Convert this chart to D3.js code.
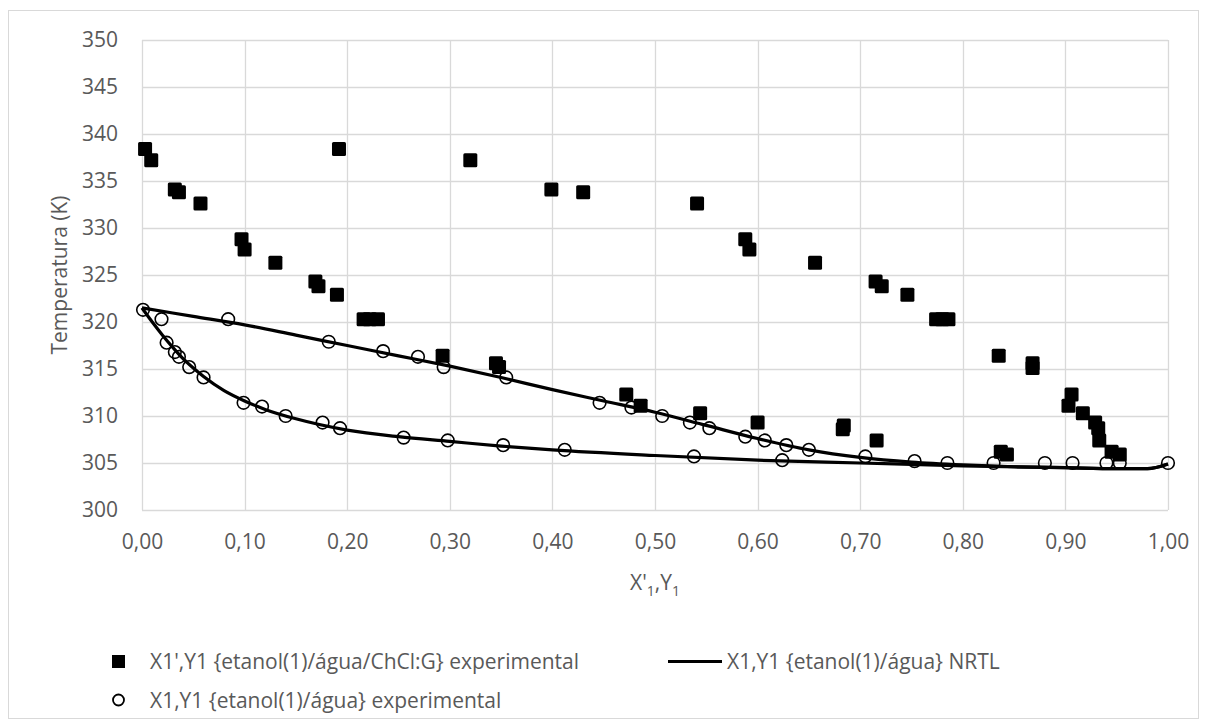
<!DOCTYPE html>
<html>
<head>
<meta charset="utf-8">
<script src="https://cdnjs.cloudflare.com/ajax/libs/d3/7.8.5/d3.min.js"></script>
<style>
  body { margin: 0; background: #fff; }
  text { font-family: "Open Sans", "Liberation Sans", sans-serif; fill: #595959; }
</style>
</head>
<body>
<div id="chart"></div>
<script>
// squares: X1' (liquid, with ChCl:G) and Y1 (vapour)
var sqX = [0.003, 0.009, 0.032, 0.036, 0.057, 0.097, 0.100, 0.130, 0.169, 0.172, 0.190, 0.216, 0.222, 0.230,
  0.293, 0.345, 0.348, 0.472, 0.486, 0.544, 0.600, 0.683, 0.684, 0.716, 0.837, 0.843,
  0.192, 0.320, 0.399, 0.430, 0.541, 0.588, 0.592, 0.656, 0.715, 0.721, 0.746, 0.774, 0.780, 0.786,
  0.835, 0.868, 0.868, 0.906, 0.903, 0.917, 0.929, 0.932, 0.933, 0.945, 0.953];
var sqT = [338.4, 337.2, 334.1, 333.8, 332.6, 328.8, 327.7, 326.3, 324.3, 323.8, 322.9, 320.3, 320.3, 320.3,
  316.4, 315.6, 315.2, 312.3, 311.1, 310.3, 309.3, 308.6, 309.0, 307.4, 306.2, 305.9,
  338.4, 337.2, 334.1, 333.8, 332.6, 328.8, 327.7, 326.3, 324.3, 323.8, 322.9, 320.3, 320.3, 320.3,
  316.4, 315.6, 315.1, 312.3, 311.1, 310.3, 309.3, 308.7, 307.4, 306.2, 305.9];

// circles: ethanol/water experimental
var ciX = [0.001, 0.019, 0.024, 0.032, 0.036, 0.046, 0.060, 0.099, 0.117, 0.140, 0.176, 0.193, 0.255, 0.298,
  0.352, 0.412, 0.538, 0.624,
  0.084, 0.182, 0.235, 0.269, 0.294, 0.355, 0.446, 0.477, 0.507, 0.534, 0.553, 0.588, 0.607, 0.628, 0.650,
  0.705, 0.753, 0.785, 0.830, 0.880, 0.907, 0.940, 0.953, 1.000];
var ciT = [321.3, 320.3, 317.8, 316.8, 316.3, 315.2, 314.1, 311.4, 311.0, 310.0, 309.3, 308.7, 307.7, 307.4,
  306.9, 306.4, 305.7, 305.3,
  320.3, 317.9, 316.9, 316.3, 315.2, 314.1, 311.4, 310.9, 310.0, 309.3, 308.7, 307.8, 307.4, 306.9, 306.4,
  305.7, 305.2, 305.0, 305.0, 305.0, 305.0, 305.0, 305.0, 305.0];

// NRTL curves
var nrtlLiqX = [0, 0.01, 0.02, 0.03, 0.04, 0.05, 0.06, 0.08, 0.10, 0.12, 0.15, 0.20, 0.25, 0.30, 0.35, 0.40,
  0.50, 0.60, 0.70, 0.80, 0.90, 0.95, 0.98, 1.0];
var nrtlLiqT = [321.5, 320.0, 318.6, 317.3, 316.1, 315.1, 314.2, 312.7, 311.6, 310.7, 309.7, 308.5, 307.8, 307.3,
  306.8, 306.4, 305.8, 305.3, 305.0, 304.7, 304.5, 304.4, 304.4, 304.9];
var nrtlVapX = [0, 0.05, 0.10, 0.15, 0.20, 0.25, 0.30, 0.35, 0.40, 0.45, 0.50, 0.55, 0.60, 0.65, 0.70, 0.75,
  0.80, 0.85, 0.90, 0.95, 0.98, 1.0];
var nrtlVapT = [321.5, 320.6, 319.7, 318.6, 317.5, 316.4, 315.3, 314.1, 312.8, 311.6, 310.4, 309.0, 307.6, 306.4,
  305.6, 305.1, 304.8, 304.6, 304.5, 304.4, 304.4, 304.9];

var xTicks = [0, 0.1, 0.2, 0.3, 0.4, 0.5, 0.6, 0.7, 0.8, 0.9, 1.0];
var yTicks = [300, 305, 310, 315, 320, 325, 330, 335, 340, 345, 350];

var legendNames = ["X1',Y1 {etanol(1)/água/ChCl:G} experimental",
  "X1,Y1 {etanol(1)/água} NRTL",
  "X1,Y1 {etanol(1)/água} experimental"];

var W = 1206, H = 725;
var m = {left: 142, right: 1168, top: 40, bottom: 510};
var fs = 21;

var svg = d3.select('#chart').append('svg').attr('width', W).attr('height', H);

svg.append('rect')
  .attr('x', 8.5).attr('y', 10.5).attr('width', 1190).attr('height', 708)
  .attr('fill', '#fff').attr('stroke', '#d9d9d9').attr('stroke-width', 1);

var x = d3.scaleLinear().domain([0, 1]).range([m.left, m.right]);
var y = d3.scaleLinear().domain([300, 350]).range([m.bottom, m.top]);

// grid
svg.append('g').selectAll('line.v').data(xTicks).enter().append('line')
  .attr('x1', function(d) { return Math.round(x(d)) + 0.5; })
  .attr('x2', function(d) { return Math.round(x(d)) + 0.5; })
  .attr('y1', m.top).attr('y2', m.bottom)
  .attr('stroke', '#d9d9d9').attr('stroke-width', 1.3);
svg.append('g').selectAll('line.h').data(yTicks).enter().append('line')
  .attr('y1', function(d) { return Math.round(y(d)) + 0.5; })
  .attr('y2', function(d) { return Math.round(y(d)) + 0.5; })
  .attr('x1', m.left).attr('x2', m.right)
  .attr('stroke', '#d9d9d9').attr('stroke-width', 1.3);

// axes labels via d3 axes
var fmt = function(d) { return d3.format('.2f')(d).replace('.', ','); };
var xAxis = svg.append('g').attr('transform', 'translate(0,' + m.bottom + ')')
  .call(d3.axisBottom(x).tickValues(xTicks).tickFormat(fmt).tickSize(0).tickPadding(24));
var yAxis = svg.append('g').attr('transform', 'translate(' + m.left + ',0)')
  .call(d3.axisLeft(y).tickValues(yTicks).tickSize(0).tickPadding(24));
[xAxis, yAxis].forEach(function(a) {
  a.select('.domain').remove();
  a.selectAll('text').attr('font-size', fs).style('fill', '#595959')
    .attr('font-family', '"Open Sans", sans-serif');
});

// axis titles
var xt = svg.append('text').attr('x', (m.left + m.right) / 2).attr('y', 590)
  .attr('text-anchor', 'middle').attr('font-size', fs);
xt.append('tspan').text("X'");
xt.append('tspan').text('1').attr('font-size', 14).attr('dy', 6);
xt.append('tspan').text(',Y').attr('dy', -6);
xt.append('tspan').text('1').attr('font-size', 14).attr('dy', 6);

svg.append('text')
  .attr('transform', 'translate(67,' + ((m.top + m.bottom) / 2) + ') rotate(-90)')
  .attr('text-anchor', 'middle').attr('font-size', fs)
  .text('Temperatura (K)');

// NRTL lines
var line = d3.line().curve(d3.curveMonotoneX)
  .x(function(d) { return x(d[0]); }).y(function(d) { return y(d[1]); });
[[nrtlLiqX, nrtlLiqT], [nrtlVapX, nrtlVapT]].forEach(function(s) {
  svg.append('path').datum(d3.zip(s[0], s[1]))
    .attr('d', line).attr('fill', 'none')
    .attr('stroke', '#000').attr('stroke-width', 3.2);
});

// circles
svg.append('g').selectAll('circle').data(d3.zip(ciX, ciT)).enter().append('circle')
  .attr('cx', function(d) { return x(d[0]); })
  .attr('cy', function(d) { return y(d[1]); })
  .attr('r', 6.3).attr('fill', 'none').attr('stroke', '#000').attr('stroke-width', 1.6);

// squares
var s = 14;
svg.append('g').selectAll('rect').data(d3.zip(sqX, sqT)).enter().append('rect')
  .attr('x', function(d) { return x(d[0]) - s / 2; })
  .attr('y', function(d) { return y(d[1]) - s / 2; })
  .attr('width', s).attr('height', s).attr('rx', 1.5)
  .attr('fill', '#000');

// legend
var lg = svg.append('g');
lg.append('rect').attr('x', 112).attr('y', 655).attr('width', 13).attr('height', 13).attr('fill', '#000');
lg.append('text').attr('x', 150).attr('y', 669).attr('font-size', fs).text(legendNames[0]);
lg.append('line').attr('x1', 668).attr('x2', 722).attr('y1', 661.5).attr('y2', 661.5)
  .attr('stroke', '#000').attr('stroke-width', 3.2);
lg.append('text').attr('x', 727).attr('y', 669).attr('font-size', fs).text(legendNames[1]);
lg.append('circle').attr('cx', 118.5).attr('cy', 700).attr('r', 5.5)
  .attr('fill', 'none').attr('stroke', '#000').attr('stroke-width', 1.8);
lg.append('text').attr('x', 150).attr('y', 708).attr('font-size', fs).text(legendNames[2]);
</script>
</body>
</html>
